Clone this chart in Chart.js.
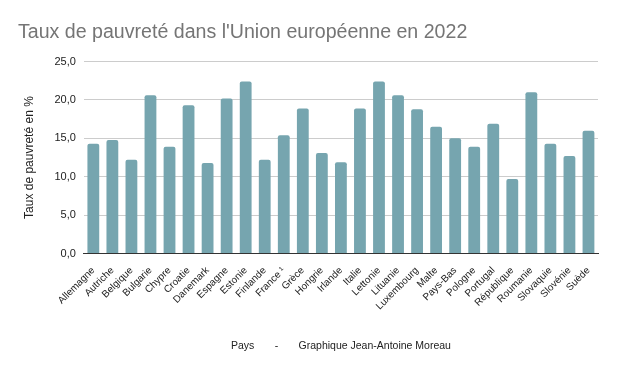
<!DOCTYPE html>
<html>
<head>
<meta charset="utf-8">
<script src="https://cdn.jsdelivr.net/npm/chart.js@4"></script>
<style>
  body { margin: 0; background: #fff; }
  #wrap { width: 617px; height: 371px; }
</style>
</head>
<body>
<div id="wrap"><canvas id="povChart" width="617" height="371"></canvas></div>
<script>
const pays = ['Allemagne', 'Autriche', 'Belgique', 'Bulgarie', 'Chypre', 'Croatie', 'Danemark',
  'Espagne', 'Estonie', 'Finlande', 'France ¹', 'Grèce', 'Hongrie', 'Irlande', 'Italie',
  'Lettonie', 'Lituanie', 'Luxembourg', 'Malte', 'Pays-Bas', 'Pologne', 'Portugal',
  'République', 'Roumanie', 'Slovaquie', 'Slovénie', 'Suède'];
const tauxPauvrete = [14.3, 14.8, 12.2, 20.6, 13.9, 19.3, 11.8, 20.2, 22.4, 12.2, 15.4, 18.9,
  13.1, 11.9, 18.9, 22.4, 20.6, 18.8, 16.5, 15.0, 13.9, 16.9, 9.7, 21.0, 14.3, 12.7, 16.0];
const yMax = 25;
const yStep = 5;

const ctx = document.getElementById("povChart").getContext("2d");
const povChart = new Chart(ctx, {
  type: 'bar',
  data: {
    labels: pays,
    datasets: [{
      label: 'Taux de pauvreté',
      data: tauxPauvrete,
      backgroundColor: '#76a5af',
      borderRadius: { topLeft: 2, topRight: 2 },
      borderSkipped: 'bottom',
      categoryPercentage: 1,
      barPercentage: 0.62
    }]
  },
  options: {
    responsive: false,
    animation: false,
    layout: { padding: { left: 18, right: 19, top: 8, bottom: 15 } },
    plugins: {
      legend: { display: false },
      tooltip: { enabled: false },
      title: {
        display: true,
        text: "Taux de pauvreté dans l'Union européenne en 2022",
        align: 'start',
        color: '#757575',
        font: { family: 'Liberation Sans, Arial, sans-serif', size: 19.6, weight: 'normal' },
        padding: { top: 13, bottom: 17 }
      }
    },
    scales: {
      x: {
        grid: { display: false },
        border: { color: '#333', width: 1 },
        ticks: {
          autoSkip: false,
          maxRotation: 45, minRotation: 45,
          color: '#222',
          font: { family: 'Liberation Sans, Arial, sans-serif', size: 10 }
        },
        title: {
          display: true,
          text: 'Pays       -       Graphique Jean-Antoine Moreau',
          color: '#222',
          font: { family: 'Liberation Sans, Arial, sans-serif', size: 10.5 },
          padding: { top: 24 }
        }
      },
      y: {
        min: 0, max: yMax,
        border: { display: false },
        grid: {
          color: c => c.tick && c.tick.value === 0 ? '#333' : '#ccc',
          drawTicks: false
        },
        ticks: {
          stepSize: yStep,
          padding: 8,
          color: '#222',
          font: { family: 'Liberation Sans, Arial, sans-serif', size: 11 },
          callback: v => v.toFixed(1).replace('.', ',')
        },
        title: {
          display: true,
          text: 'Taux de pauvreté en %',
          color: '#222',
          font: { family: 'Liberation Sans, Arial, sans-serif', size: 12 },
          padding: { bottom: 10 }
        }
      }
    }
  }
});
</script>
</body>
</html>
